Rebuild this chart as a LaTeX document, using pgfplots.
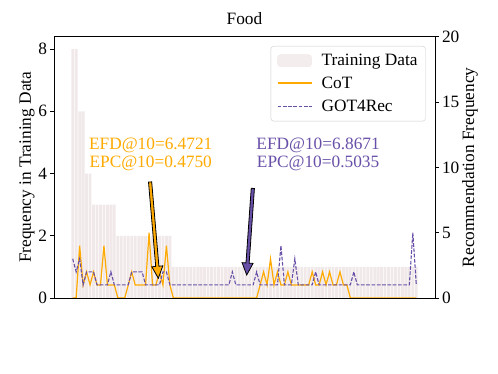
\documentclass[border=0pt]{standalone}
\usepackage{fontspec}
\setmainfont{Liberation Serif}
\usepackage{pgfplots}
\usepackage{pgfplotstable}
\pgfplotsset{compat=1.18}
\usetikzlibrary{calc}

\definecolor{barcol}{RGB}{241,233,233}
\definecolor{cotcol}{RGB}{255,170,0}
\definecolor{gotcol}{RGB}{104,80,168}
\newcommand{\fs}{\fontsize{17.3}{20}\selectfont}

% tail, head, colour
\newcommand{\fancyarrow}[3]{%
  \coordinate (C) at ($(#2)!12pt!(#1)$);
  \filldraw[fill=#3, draw=black, line width=0.8pt, line join=miter]
    ($(#1)!1.6pt!90:(#2)$) -- ($(C)!1.6pt!90:(#2)$) -- ($(C)!5.5pt!90:(#2)$)
    -- (#2) -- ($(C)!5.5pt!-90:(#2)$) -- ($(C)!1.6pt!-90:(#2)$)
    -- ($(#1)!1.6pt!-90:(#2)$) -- cycle;}

\pgfplotstableread{
i train cot got
0 8 0 3
1 8 0 2
2 6 4 3
3 6 1 1
4 4 2 2
5 4 1 2
6 3 2 2
7 3 1 1
8 3 1 1
9 3 4 1
10 3 1 1
11 3 1 2
12 3 1 1
13 2 0 1
14 2 0 1
15 2 0 1
16 2 1 1
17 2 2 2
18 2 1 2
19 2 1 2
20 2 1 2
21 2 1 1
22 2 5 1
23 2 1 1
24 2 1 1
25 2 2 1
26 2 1 2
27 2 4 2
28 2 1 1
29 1 0 1
30 1 0 1
31 1 0 1
32 1 0 1
33 1 0 1
34 1 0 1
35 1 0 1
36 1 0 1
37 1 0 1
38 1 0 1
39 1 0 1
40 1 0 1
41 1 0 1
42 1 0 1
43 1 0 1
44 1 0 1
45 1 0 1
46 1 0 2
47 1 0 1
48 1 0 1
49 1 0 1
50 1 0 1
51 1 0 1
52 1 0 1
53 1 0 2
54 1 1 1
55 1 2 1
56 1 1 1
57 1 3 1
58 1 1 1
59 1 2 1
60 1 1 4
61 1 1 1
62 1 2 1
63 1 1 1
64 1 1 3
65 1 1 1
66 1 1 1
67 1 1 1
68 1 1 1
69 1 2 1
70 1 1 2
71 1 1 1
72 1 2 1
73 1 1 1
74 1 2 1
75 1 1 1
76 1 1 1
77 1 2 1
78 1 1 1
79 1 1 1
80 1 0 1
81 1 0 2
82 1 0 1
83 1 0 1
84 1 0 1
85 1 0 1
86 1 0 1
87 1 0 1
88 1 0 1
89 1 0 1
90 1 0 1
91 1 0 1
92 1 0 1
93 1 0 1
94 1 0 1
95 1 0 1
96 1 0 1
97 1 0 1
98 1 0 5
99 1 0 1
}\data

\begin{document}
\begin{tikzpicture}
\path[use as bounding box] (-54pt,-76pt) rectangle (444pt,298pt);

\begin{axis}[
  scale only axis, width=381pt, height=261.3pt,
  xmin=-5.39, xmax=104.39, ymin=0, ymax=8.4,
  xtick=\empty, ytick={0,2,4,6,8}, ytick pos=left,
  tick align=outside, major tick length=3.5pt,
  tick style={black, line width=0.8pt},
  axis line style={black, line width=0.8pt},
  tick label style={font=\fs},
  /pgf/number format/assume math mode=true,
  ylabel={Frequency in Training Data},
  ylabel style={font=\fs, at={(axis description cs:-0.0709,0.5)}, anchor=center},
  title={Food},
  title style={font=\fs, at={(axis description cs:0.5,1)}, anchor=base, yshift=6pt},
]
\addplot[ybar, bar width=0.8, fill=barcol, draw=none] table[x=i, y=train] {\data};
\end{axis}

\begin{axis}[
  scale only axis, width=381pt, height=261.3pt,
  xmin=-5.39, xmax=104.39, ymin=0, ymax=20,
  axis x line=none, axis y line*=right,
  ytick={0,5,10,15,20},
  tick align=outside, major tick length=3.5pt,
  tick style={black, line width=0.8pt},
  axis line style={black, line width=0.8pt},
  tick label style={font=\fs},
  /pgf/number format/assume math mode=true,
  ylabel={Recommendation Frequency},
  ylabel style={font=\fs, at={(axis description cs:1.0919,0.5)}, anchor=center},
  legend style={at={(axis description cs:0.9756,0.9644)}, anchor=north east,
    draw=black!20, rounded corners=3pt, fill=white, fill opacity=0.8,
    text opacity=1, font=\fs, inner xsep=6pt, inner ysep=3pt},
  legend cell align=left,
]
\addlegendimage{legend image code/.code={
    \path[draw=none, fill=none] (0pt,-11.5pt) rectangle (42pt,11.5pt);
    \fill[barcol] (0pt,-6pt) rectangle (34pt,6pt);}}
\addlegendentry{Training Data}
\addlegendimage{legend image code/.code={
    \path[draw=none, fill=none] (0pt,-11.5pt) rectangle (42pt,11.5pt);
    \draw[cotcol, line width=1.5pt] (0pt,0.5pt) -- (34pt,0.5pt);}}
\addlegendentry{CoT}
\addlegendimage{legend image code/.code={
    \path[draw=none, fill=none] (0pt,-11.5pt) rectangle (42pt,11.5pt);
    \draw[gotcol, line width=1.1pt, dash pattern=on 3.7pt off 1.6pt] (0pt,0pt) -- (34pt,0pt);}}
\addlegendentry{GOT4Rec}

\addplot[forget plot, cotcol, line width=1.2pt, no marks] table[x=i, y=cot] {\data};
\addplot[forget plot, gotcol, line width=1.1pt, dash pattern=on 3.7pt off 1.6pt, no marks] table[x=i, y=got] {\data};

\node[anchor=base, text=cotcol, font=\fs] at (axis cs:22.48,11.36) {EFD@10=6.4721};
\node[anchor=base, text=cotcol, font=\fs] at (axis cs:22.48,9.97) {EPC@10=0.4750};
\node[anchor=base, text=gotcol, font=\fs] at (axis cs:70.7,11.36) {EFD@10=6.8671};
\node[anchor=base, text=gotcol, font=\fs] at (axis cs:70.7,9.97) {EPC@10=0.5035};

\coordinate (oT) at (axis cs:22.3,8.88);
\coordinate (oH) at (axis cs:24.67,1.51);
\coordinate (pT) at (axis cs:51.9,8.39);
\coordinate (pH) at (axis cs:50.14,1.76);
\end{axis}

\fancyarrow{oT}{oH}{cotcol}
\fancyarrow{pT}{pH}{gotcol}
\end{tikzpicture}
\end{document}
